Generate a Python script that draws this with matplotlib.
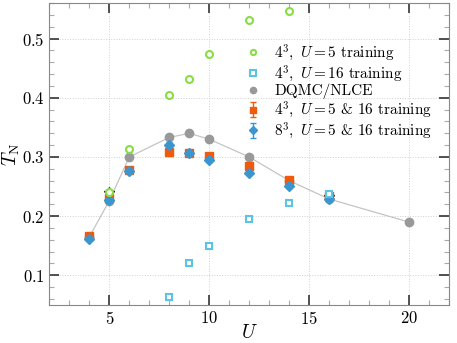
import matplotlib
matplotlib.use('Agg')
from matplotlib import pyplot as plt
from matplotlib.ticker import MultipleLocator

plt.rcParams['font.family'] = 'serif'
plt.rcParams['font.serif'] = ['cmr10']
plt.rcParams['mathtext.fontset'] = 'cm'
plt.rcParams['axes.unicode_minus'] = False
plt.rcParams['axes.formatter.use_mathtext'] = True

# 4^3, U=5 training
u_g = [5, 6, 8, 9, 10, 12, 14]
t_g = [0.240, 0.314, 0.405, 0.432, 0.474, 0.531, 0.546]

# 4^3, U=16 training
u_c = [8, 9, 10, 12, 14, 16]
t_c = [0.064, 0.120, 0.150, 0.195, 0.222, 0.238]

# DQMC/NLCE
u_q = [4, 5, 6, 8, 9, 10, 12, 14, 16, 20]
t_q = [0.165, 0.226, 0.300, 0.333, 0.340, 0.330, 0.300, 0.260, 0.229, 0.190]

# 4^3, U=5 & 16 training
u_o = [4, 5, 6, 8, 9, 10, 12, 14, 16]
t_o = [0.167, 0.231, 0.278, 0.308, 0.307, 0.301, 0.284, 0.261, 0.234]
e_o = [0.003, 0.005, 0.003, 0.003, 0.003, 0.003, 0.004, 0.003, 0.004]

# 8^3, U=5 & 16 training
u_b = [4, 5, 6, 8, 9, 10, 12, 14, 16]
t_b = [0.162, 0.228, 0.277, 0.320, 0.306, 0.295, 0.273, 0.251, 0.229]
e_b = [0.002, 0.006, 0.003, 0.005, 0.004, 0.003, 0.003, 0.003, 0.003]

# training points
u_s = [5, 16]
t_s = [0.239, 0.233]

fig = plt.figure(figsize=(4.57, 3.43), dpi=100)
ax = fig.add_axes([0.108, 0.111, 0.8745, 0.88])

ax.plot(u_q, t_q, c='#c4c4c4', lw=0.9, zorder=2)
ax.plot(u_q, t_q, ls='none', marker='o', ms=6, c='#999999', zorder=2, label='DQMC/NLCE')
ax.plot(u_s, t_s, ls='none', marker='*', ms=8, c='k', zorder=2.5)
ax.plot(u_g, t_g, ls='none', marker='o', ms=5, mfc='white', mec='#88dd44', mew=1.5, zorder=4,
        label=r'$4^3,\ U=5$ training')
ax.plot(u_c, t_c, ls='none', marker='s', ms=5, mfc='white', mec='#5bc4e6', mew=1.5, zorder=4,
        label=r'$4^3,\ U=16$ training')
ax.errorbar(u_o, t_o, yerr=e_o, ls='none', marker='s', ms=6, c='#f05a0a', capsize=2, elinewidth=1,
            zorder=3, label=r'$4^3,\ U=5$ & $16$ training')
ax.errorbar(u_b, t_b, yerr=e_b, ls='none', marker='D', ms=5.5, c='#3a96d0', capsize=2, elinewidth=1,
            zorder=3, label=r'$8^3,\ U=5$ & $16$ training')

ax.set_xlim(2, 22)
ax.set_ylim(0.05, 0.56)
ax.xaxis.set_major_locator(MultipleLocator(5))
ax.xaxis.set_minor_locator(MultipleLocator(1))
ax.yaxis.set_major_locator(MultipleLocator(0.1))
ax.yaxis.set_minor_locator(MultipleLocator(0.02))
ax.tick_params(which='both', direction='in', top=True, right=True, labelsize=12)
ax.tick_params(which='major', length=7, width=1.2, color='#333333')
ax.tick_params(which='minor', length=3.5, width=0.8, color='#aaaaaa')
for s in ax.spines.values():
    s.set_color('#888888')
ax.grid(which='major', ls=':', lw=0.7, c='#d0d0d0')

ax.set_xlabel(r'$U$', fontsize=14, labelpad=-2)
ax.set_ylabel(r'$T_{\rm N}$', fontsize=14, labelpad=0)

h, l = ax.get_legend_handles_labels()
order = [1, 2, 0, 3, 4]
ax.legend([h[i] for i in order], [l[i] for i in order], loc='upper left', bbox_to_anchor=(0.46, 0.91),
          frameon=False, fontsize=11, handlelength=1.0, handletextpad=0.9, labelspacing=0.03,
          markerscale=0.75, borderpad=0.3)

plt.savefig('out.png', dpi=100)
